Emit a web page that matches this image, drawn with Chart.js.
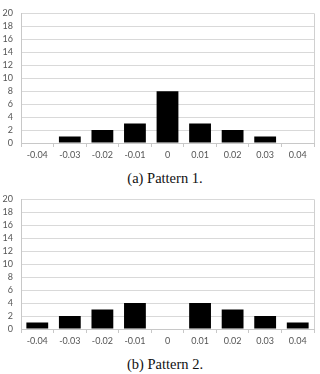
<!DOCTYPE html>
<html><head><meta charset="utf-8">
<script src="https://cdn.jsdelivr.net/npm/chart.js@4"></script>
<style>
html,body{margin:0;padding:0;background:#fff;width:320px;height:374px;overflow:hidden;}
.wrap{position:absolute;left:0;width:320px;}
canvas{display:block;}
.cap{position:absolute;left:0;width:330px;text-align:center;font-family:'Liberation Serif','Times New Roman',Times,serif;font-size:14.5px;line-height:16px;color:#111;}
</style></head>
<body>
<div class="wrap" style="top:0"><canvas id="c1" width="320" height="166"></canvas></div>
<div class="cap" style="top:170px">(a) Pattern 1.</div>
<div class="wrap" style="top:186px"><canvas id="c2" width="320" height="166"></canvas></div>
<div class="cap" style="top:356px">(b) Pattern 2.</div>
<script>
const categories = ["-0.04","-0.03","-0.02","-0.01","0","0.01","0.02","0.03","0.04"];
const pattern1 = [0,1,2,3,8,3,2,1,0];
const pattern2 = [1,2,3,4,0,4,3,2,1];
const yMin = 0, yMax = 20, yStep = 2;

const rightBorder = {
  id:'rightBorder',
  afterDraw(chart){
    const a = chart.chartArea, ctx = chart.ctx;
    ctx.save();
    ctx.strokeStyle = '#d0d0d0';
    ctx.lineWidth = 1;
    ctx.beginPath();
    ctx.moveTo(Math.round(a.right)+0.5, a.top);
    ctx.lineTo(Math.round(a.right)+0.5, a.bottom);
    ctx.stroke();
    ctx.restore();
  }
};

const tickFont = {family:'Lato, "Noto Sans", sans-serif', size:9};

function make(id, values){
  return new Chart(document.getElementById(id), {
    type:'bar',
    data:{labels:categories, datasets:[{data:values, backgroundColor:'#000', borderWidth:0, barPercentage:0.67, categoryPercentage:1}]},
    options:{
      responsive:false, animation:false, devicePixelRatio:1,
      layout:{padding:{top:7,right:6,left:0,bottom:0}},
      plugins:{legend:{display:false}, tooltip:{enabled:false}},
      scales:{
        x:{
          grid:{display:true, drawOnChartArea:false, drawTicks:true, tickLength:4, color:'#c8c8c8', offset:true},
          border:{display:true, color:'#c8c8c8'},
          ticks:{font:tickFont, color:'#555', padding:3, maxRotation:0, autoSkip:false},
          afterFit(s){ s.height = 23; }
        },
        y:{
          min:yMin, max:yMax,
          grid:{color:'#d9d9d9', drawTicks:false},
          border:{display:true, color:'#c8c8c8'},
          ticks:{stepSize:yStep, font:tickFont, color:'#555', padding:8, autoSkip:false},
          afterFit(s){ s.width = 21; }
        }
      }
    },
    plugins:[rightBorder]
  });
}
make('c1', pattern1);
make('c2', pattern2);
</script>
</body></html>
